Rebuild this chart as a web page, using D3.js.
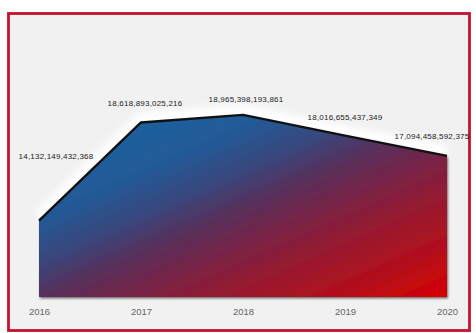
<!DOCTYPE html>
<html>
<head>
<meta charset="utf-8">
<script src="https://cdn.jsdelivr.net/npm/d3@7"></script>
<style>
  html, body { margin: 0; padding: 0; background: #ffffff; }
  svg { display: block; }
</style>
</head>
<body>
<svg id="chart" width="476" height="333"></svg>
<script>
// Yearly totals
const years = ["2016", "2017", "2018", "2019", "2020"];
const totals = [14132149432368, 18618893025216, 18965398193861, 18016655437349, 17094458592375];
const valueLabels = ["14,132,149,432,368", "18,618,893,025,216", "18,965,398,193,861", "18,016,655,437,349", "17,094,458,592,375"];

const svg = d3.select("#chart");
const defs = svg.append("defs");

// Frame
svg.append("rect")
  .attr("x", 8.5).attr("y", 13.5)
  .attr("width", 461).attr("height", 317)
  .attr("fill", "#f1f1f1")
  .attr("stroke", "#c4142e")
  .attr("stroke-width", 2.8);

const x = d3.scalePoint().domain(years).range([39, 447]);
const y = d3.scaleLinear().domain([10.64e12, 19.6e12]).range([297, 101]);

// Diagonal blue → purple → red fill
const grad = defs.append("linearGradient")
  .attr("id", "areaFill")
  .attr("x1", "0").attr("y1", "0").attr("x2", "1").attr("y2", "1");
[
  [0.00, "#1a64a2"],
  [0.28, "#215a98"],
  [0.40, "#38487e"],
  [0.50, "#56305c"],
  [0.62, "#7c2244"],
  [0.72, "#961a30"],
  [0.86, "#b30f1c"],
  [1.00, "#d80000"]
].forEach(([o, c]) => grad.append("stop").attr("offset", o).attr("stop-color", c));

// Soft white halo above the ridge line
const glow = defs.append("filter").attr("id", "glow")
  .attr("x", "-10%").attr("y", "-60%").attr("width", "120%").attr("height", "220%");
glow.append("feGaussianBlur").attr("stdDeviation", 3.5);

// Dark soft edge under the area
const shadow = defs.append("filter").attr("id", "shadow")
  .attr("x", "-5%").attr("y", "-5%").attr("width", "110%").attr("height", "110%");
shadow.append("feDropShadow")
  .attr("dx", 1).attr("dy", 1.5).attr("stdDeviation", 1)
  .attr("flood-color", "#000").attr("flood-opacity", 0.55);

const pts = years.map((yr, i) => ({ yr, v: totals[i], label: valueLabels[i] }));

const area = d3.area()
  .x(d => x(d.yr))
  .y0(y.range()[0])
  .y1(d => y(d.v));

const line = d3.line()
  .x(d => x(d.yr))
  .y(d => y(d.v));

svg.append("path")
  .datum(pts)
  .attr("d", line)
  .attr("transform", "translate(0,-4)")
  .attr("fill", "none")
  .attr("stroke", "#ffffff")
  .attr("stroke-width", 12)
  .attr("filter", "url(#glow)");

svg.append("path")
  .datum(pts)
  .attr("d", area)
  .attr("fill", "url(#areaFill)")
  .attr("filter", "url(#shadow)");

svg.append("path")
  .datum(pts)
  .attr("d", line)
  .attr("fill", "none")
  .attr("stroke", "#111111")
  .attr("stroke-width", 2.4)
  .attr("stroke-linejoin", "round");

// Value labels, nudged so they sit clear of the ridge and inside the frame
const labelShift = [[17, -64], [4, -19], [3, -15], [0, -18], [-15, -19]];
svg.append("g")
  .selectAll("text")
  .data(pts)
  .join("text")
  .attr("x", (d, i) => x(d.yr) + labelShift[i][0])
  .attr("y", (d, i) => y(d.v) + labelShift[i][1])
  .attr("text-anchor", "middle")
  .attr("dominant-baseline", "middle")
  .attr("font-family", "Liberation Sans, Arial, sans-serif")
  .attr("font-size", 8)
  .attr("letter-spacing", 0.2)
  .attr("fill", "#1a1a1a")
  .text(d => d.label);

// Category axis
const xAxis = svg.append("g")
  .attr("transform", "translate(0,308)")
  .call(d3.axisBottom(x).tickSize(0).tickPadding(0));
xAxis.select(".domain").remove();
xAxis.selectAll("text")
  .attr("font-family", "Liberation Sans, Arial, sans-serif")
  .attr("font-size", 9.5)
  .attr("fill", "#666666");
</script>
</body>
</html>
